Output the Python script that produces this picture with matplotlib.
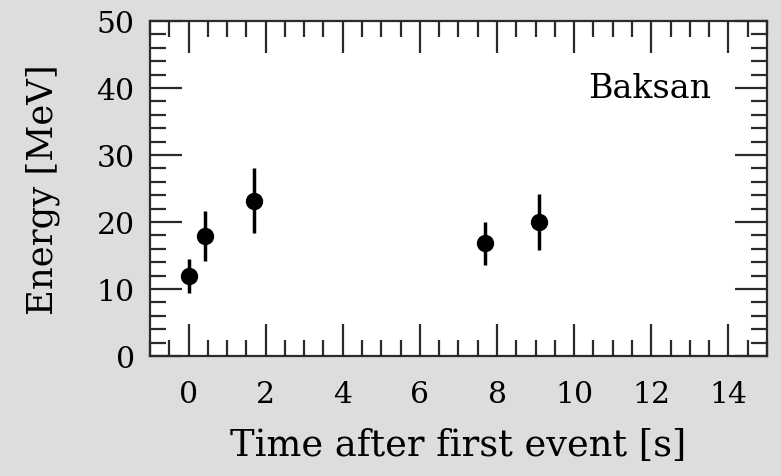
import matplotlib
matplotlib.use("Agg")
import matplotlib.pyplot as plt
from matplotlib.ticker import MultipleLocator

# Data
times = [0.0, 0.435, 1.71, 7.687, 9.099]
energies = [11.9, 17.9, 23.2, 16.8, 20.0]
energy_errs = [2.5, 3.7, 4.9, 3.2, 4.2]
xticks = [0, 2, 4, 6, 8, 10, 12, 14]
yticks = [0, 10, 20, 30, 40, 50]
detector = "Baksan"

plt.rcParams['font.family'] = ['DejaVu Serif']
bg = '#dddddd'
fig = plt.figure(figsize=(7.81, 4.77), dpi=100, facecolor=bg)
ax = fig.add_axes([0.192, 0.2516, 0.790, 0.7024])
ax.set_facecolor('white')

ax.errorbar(times, energies, yerr=energy_errs, fmt='o', color='black',
            markersize=11.5, elinewidth=2.5, capsize=0)

ax.set_xlim(-1, 15)
ax.set_ylim(0, 50)
ax.set_xticks(xticks)
ax.set_yticks(yticks)
ax.xaxis.set_minor_locator(MultipleLocator(0.5))
ax.yaxis.set_minor_locator(MultipleLocator(2))
ax.tick_params(which='both', direction='in', top=True, right=True,
               color='#2a2a2a', width=1.6)
ax.tick_params(which='major', length=23, labelsize=21.5)
ax.tick_params(axis='x', which='major', pad=17)
ax.tick_params(axis='y', which='major', pad=11)
ax.tick_params(which='minor', length=11.5)
for s in ax.spines.values():
    s.set_linewidth(1.6)
    s.set_color('#2a2a2a')

ax.set_xlabel('Time after first event [s]', fontsize=26.5, labelpad=14)
ax.set_ylabel('Energy [MeV]', fontsize=25.5, labelpad=26)
ax.text(13.55, 40, detector, ha='right', va='center', fontsize=24)

fig.savefig('out.png', dpi=100, facecolor=bg)
